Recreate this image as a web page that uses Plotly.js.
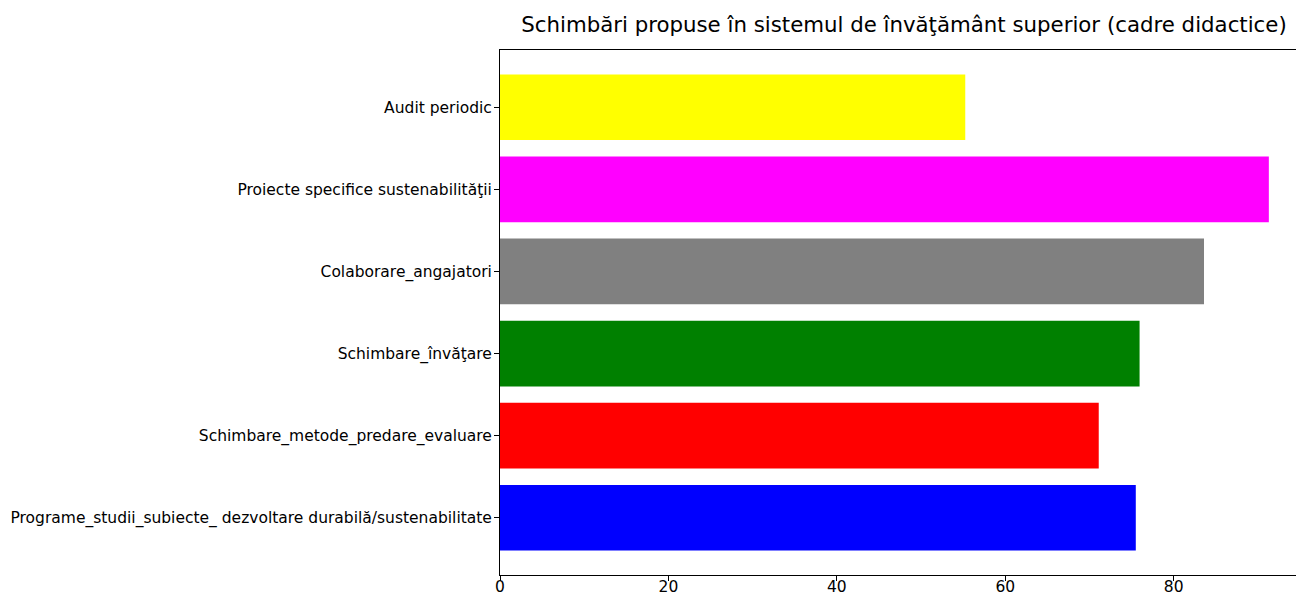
<!DOCTYPE html>
<html>
<head>
<meta charset="utf-8">
<script src="https://cdn.plot.ly/plotly-3.0.1.min.js"></script>
<style>
html, body { margin: 0; padding: 0; overflow: hidden; background: #fff; width: 1296px; height: 594px; }
#chart { width: 1310px; height: 594px; }
</style>
</head>
<body>
<div id="chart"></div>
<script>
const categories = [
  "Programe_studii_subiecte_ dezvoltare durabilă/sustenabilitate",
  "Schimbare_metode_predare_evaluare",
  "Schimbare_învăţare",
  "Colaborare_angajatori",
  "Proiecte specifice sustenabilităţii",
  "Audit periodic"
];
const values = [75.5, 71.1, 75.95, 83.6, 91.3, 55.25];
const barColors = ["#0000ff", "#ff0000", "#008000", "#808080", "#ff00ff", "#ffff00"];
const xTicks = [0, 20, 40, 60, 80];
const titleText = "Schimbări propuse în sistemul de învăţământ superior (cadre didactice)";

const trace = {
  type: "bar",
  orientation: "h",
  y: categories,
  x: values,
  width: 0.8,
  marker: { color: barColors, line: { width: 0 } },
  hoverinfo: "x+y"
};

const layout = {
  width: 1310,
  height: 594,
  margin: { l: 500, r: 2, t: 50, b: 19, pad: 0 },
  paper_bgcolor: "#ffffff",
  plot_bgcolor: "#ffffff",
  font: { family: "DejaVu Sans, sans-serif", size: 15.5, color: "#000000" },
  showlegend: false,
  title: {
    text: titleText,
    font: { family: "DejaVu Sans, sans-serif", size: 21.3, color: "#000000" },
    x: 0.5, xref: "paper", xanchor: "center",
    y: 1 - 25 / 594, yref: "container", yanchor: "middle"
  },
  xaxis: {
    range: [0, 95.95],
    tickmode: "array",
    tickvals: xTicks,
    ticktext: xTicks.map(String),
    ticks: "outside", ticklen: 5, tickwidth: 1, tickcolor: "#000000",
    showgrid: false, zeroline: false,
    showline: true, linecolor: "#000000", linewidth: 1, mirror: true,
    tickfont: { size: 15.5, color: "#000000" },
    ticklabelstandoff: -8,
    fixedrange: true
  },
  yaxis: {
    type: "category",
    range: [-0.697, 5.697],
    ticks: "outside", ticklen: 5, tickwidth: 1, tickcolor: "#000000",
    showgrid: false, zeroline: false,
    showline: true, linecolor: "#000000", linewidth: 1, mirror: true,
    tickfont: { size: 15.5, color: "#000000" },
    ticklabelstandoff: -1,
    fixedrange: true
  }
};

Plotly.newPlot("chart", [trace], layout, { displayModeBar: false, staticPlot: true });
</script>
</body>
</html>
